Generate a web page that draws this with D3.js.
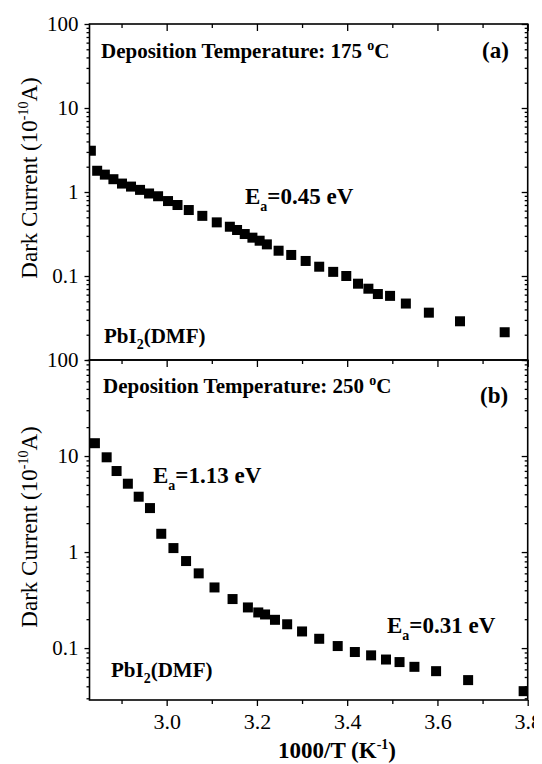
<html>
<head><meta charset="utf-8"></head>
<body>
<script src="https://d3js.org/d3.v7.min.js"></script>
<script>

// panel (a): deposition 175 C
var invT_a = [2.832, 2.846, 2.863, 2.882, 2.901, 2.921, 2.941, 2.961, 2.981, 3.003, 3.024, 3.049,
              3.079, 3.111, 3.140, 3.156, 3.173, 3.190, 3.206, 3.222, 3.248, 3.276, 3.308, 3.338,
              3.369, 3.398, 3.424, 3.447, 3.468, 3.495, 3.530, 3.581, 3.650, 3.749];
var current_a = [3.1, 1.79, 1.61, 1.42, 1.26, 1.16, 1.06, 0.96, 0.89, 0.78, 0.70, 0.61,
                 0.52, 0.435, 0.386, 0.353, 0.316, 0.286, 0.263, 0.238, 0.200, 0.178, 0.151, 0.129,
                 0.112, 0.100, 0.081, 0.0706, 0.061, 0.058, 0.047, 0.0366, 0.0289, 0.0214];

// panel (b): deposition 250 C
var invT_b = [2.841, 2.867, 2.889, 2.914, 2.938, 2.963, 2.988, 3.015, 3.043, 3.071, 3.106, 3.146,
              3.180, 3.203, 3.218, 3.240, 3.267, 3.300, 3.338, 3.379, 3.417, 3.453, 3.486, 3.516,
              3.549, 3.597, 3.668, 3.791];
var current_b = [13.6, 9.7, 6.98, 5.15, 3.77, 2.87, 1.55, 1.10, 0.806, 0.60, 0.428, 0.324,
                 0.265, 0.235, 0.224, 0.197, 0.177, 0.149, 0.125, 0.105, 0.091, 0.084, 0.076, 0.0715,
                 0.0638, 0.0575, 0.0464, 0.0356];

var xTickValues = [3.0, 3.2, 3.4, 3.6, 3.8];
var xMinorValues = [2.9, 3.1, 3.3, 3.5, 3.7];
var yTickValues = [0.1, 1, 10, 100];

// body keeps its default 8px margin, so the drawing is shifted back by 8
var pad = 8;
var width = 542, height = 764;
var left = 89.5, right = 527.7;
var fam = "'Liberation Serif'";

var svg = d3.select("body").append("svg")
    .attr("width", width - pad)
    .attr("height", height - pad);

var root = svg.append("g").attr("transform", "translate(" + (-pad) + "," + (-pad) + ")");

var x = d3.scaleLinear().domain([2.829, 3.8]).range([left, right]);

function label(sel, px, py, size, bold) {
  var t = sel.append("text")
    .style("font-family", fam)
    .attr("font-size", size);
  if (px !== null) t.attr("x", px).attr("y", py);
  if (bold) t.attr("font-weight", "bold");
  return t;
}

var panels = [
  {id: "a", top: 24, bottom: 360, ymin: 0.01, xs: invT_a, ys: current_a,
   title: "Deposition Temperature: 175 ", titleX: 101, titleY: 58,
   tag: "(a)", tagX: 482, tagY: 58,
   notes: [{x: 245, y: 204, v: "=0.45 eV"}],
   pbX: 104, pbY: 343, ylabY: 178},
  {id: "b", top: 360, bottom: 700, ymin: 0.0288, xs: invT_b, ys: current_b,
   title: "Deposition Temperature: 250 ", titleX: 103, titleY: 393,
   tag: "(b)", tagX: 480, tagY: 403,
   notes: [{x: 153, y: 483, v: "=1.13 eV"}, {x: 387, y: 633, v: "=0.31 eV"}],
   pbX: 111, pbY: 677, ylabY: 527}
];

panels.forEach(function(p) {
  var y = d3.scaleLog().domain([p.ymin, 100]).range([p.bottom, p.top]);
  var g = root.append("g");

  var minors = y.ticks().filter(function(v) { return yTickValues.indexOf(v) < 0; });

  // left axis, ticks outward
  g.append("g").attr("transform", "translate(" + left + ",0)")
    .call(d3.axisLeft(y).tickValues(yTickValues).tickSize(5).tickPadding(6)
      .tickFormat(function(d) { return d3.format("~g")(d); }))
    .call(function(a) {
      a.select(".domain").remove();
      a.attr("font-family", null).attr("font-size", 21);
      a.selectAll("text").style("font-family", fam).attr("fill", "#000");
    });
  g.append("g").attr("transform", "translate(" + left + ",0)")
    .call(d3.axisLeft(y).tickValues(minors).tickSize(3).tickFormat(""))
    .call(function(a) { a.select(".domain").remove(); });

  // right axis, ticks inward
  g.append("g").attr("transform", "translate(" + right + ",0)")
    .call(d3.axisLeft(y).tickValues(yTickValues).tickSize(6).tickFormat(""))
    .call(function(a) { a.select(".domain").remove(); });
  g.append("g").attr("transform", "translate(" + right + ",0)")
    .call(d3.axisLeft(y).tickValues(minors).tickSize(3).tickFormat(""))
    .call(function(a) { a.select(".domain").remove(); });

  // top edge, ticks inward
  g.append("g").attr("transform", "translate(0," + p.top + ")")
    .call(d3.axisBottom(x).tickValues(xTickValues).tickSize(7).tickFormat(""))
    .call(function(a) { a.select(".domain").remove(); });
  g.append("g").attr("transform", "translate(0," + p.top + ")")
    .call(d3.axisBottom(x).tickValues(xMinorValues).tickSize(4).tickFormat(""))
    .call(function(a) { a.select(".domain").remove(); });

  // frame
  g.append("rect")
    .attr("x", left).attr("y", p.top)
    .attr("width", right - left).attr("height", p.bottom - p.top)
    .attr("fill", "none").attr("stroke", "#000").attr("stroke-width", 1.6);

  // data squares, trimmed at the frame
  var pts = p.xs.map(function(v, i) { return {x: v, y: p.ys[i]}; });
  g.append("g").selectAll("rect").data(pts)
    .enter().append("rect")
    .attr("x", function(d) { return Math.max(x(d.x) - 5, left); })
    .attr("y", function(d) { return Math.max(y(d.y) - 5, p.top); })
    .attr("width", function(d) {
      return Math.min(x(d.x) + 5, right) - Math.max(x(d.x) - 5, left);
    })
    .attr("height", function(d) {
      return Math.min(y(d.y) + 5, p.bottom) - Math.max(y(d.y) - 5, p.top);
    })
    .attr("fill", "#000");

  // annotations
  var t = label(g, p.titleX, p.titleY, 21, true);
  t.append("tspan").text(p.title);
  t.append("tspan").attr("dy", -8).attr("font-size", 14).text("o");
  t.append("tspan").attr("dy", 8).text("C");

  label(g, p.tagX, p.tagY, 23, true).text(p.tag);

  p.notes.forEach(function(n) {
    var e = label(g, n.x, n.y, 23, true);
    e.append("tspan").text("E");
    e.append("tspan").attr("dy", 7).attr("font-size", 14).text("a");
    e.append("tspan").attr("dy", -7).text(n.v);
  });

  var pb = label(g, p.pbX, p.pbY, 21, true);
  pb.append("tspan").text("PbI");
  pb.append("tspan").attr("dy", 6).attr("font-size", 14).text("2");
  pb.append("tspan").attr("dy", -6).text("(DMF)");

  // y title
  var yl = label(g, null, null, 23, false)
    .attr("transform", "translate(37," + p.ylabY + ") rotate(-90)")
    .attr("text-anchor", "middle");
  yl.append("tspan").text("Dark Current (10");
  yl.append("tspan").attr("dy", -9).attr("font-size", 14).text("-10");
  yl.append("tspan").attr("dy", 9).text("A)");

  // bottom axis for the lower panel
  if (p.id === "b") {
    g.append("g").attr("transform", "translate(0," + p.bottom + ")")
      .call(d3.axisBottom(x).tickValues(xTickValues).tickSize(6).tickPadding(7)
        .tickFormat(d3.format(".1f")))
      .call(function(a) {
        a.select(".domain").remove();
        a.attr("font-family", null).attr("font-size", 22);
        a.selectAll("text").style("font-family", fam).attr("fill", "#000");
      });
    g.append("g").attr("transform", "translate(0," + p.bottom + ")")
      .call(d3.axisBottom(x).tickValues(xMinorValues).tickSize(4).tickFormat(""))
      .call(function(a) { a.select(".domain").remove(); });

    var xl = label(g, 337, 758, 23, true).attr("text-anchor", "middle");
    xl.append("tspan").text("1000/T (K");
    xl.append("tspan").attr("dy", -9).attr("font-size", 14).text("-1");
    xl.append("tspan").attr("dy", 9).text(")");
  }

  g.selectAll(".tick line").attr("stroke", "#000").attr("stroke-width", 1.3);
});

</script>
</body>
</html>
